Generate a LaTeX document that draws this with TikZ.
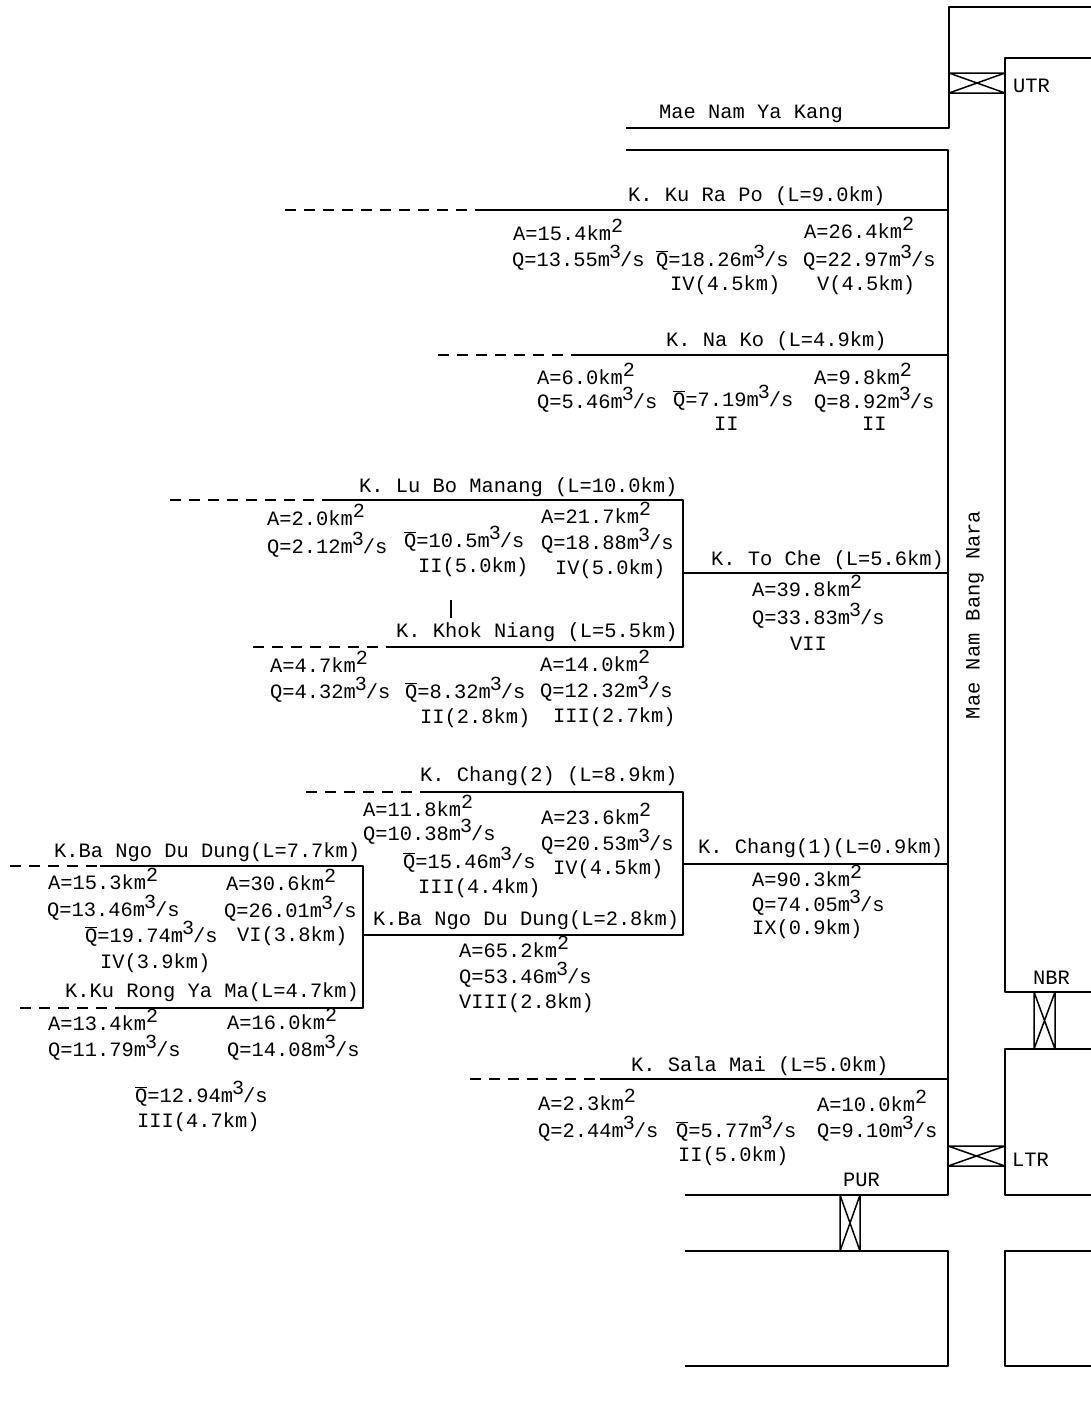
\documentclass[tikz,border=0pt]{standalone}
\usepackage{fontspec}
\setmainfont{Liberation Mono}
\newcommand{\upc}[1]{\raisebox{0.36em}{\fontsize{20}{20}\selectfont #1}}
\newcommand{\kmq}{km\upc{2}}
\newcommand{\cms}{m\kern-1pt\upc{3}\kern-1pt/s}
\newcommand{\qbar}{$\overline{\hbox{Q}}$}
\tikzset{
  bank/.style={line width=2.6pt,line join=round},
  ditch/.style={line width=2.6pt,dash pattern=on 11pt off 8pt},
  gate/.style={line width=1.5pt},
  lab/.style={anchor=base west,inner sep=0pt,yshift=-6pt,font=\fontsize{20.4}{24}\selectfont}
}
\begin{document}
\begin{tikzpicture}[x=1pt,y=-1pt]
  \useasboundingbox (0,0) rectangle (1091,1422);
  % main river banks
  \draw[bank] (1091,7) -- (949,7) -- (949,128) -- (626,128);
  \draw[bank] (626,150) -- (948,150) -- (948,1195) -- (685,1195);
  \draw[bank] (685,1251) -- (948,1251) -- (948,1366) -- (685,1366);
  \draw[bank] (1091,58) -- (1005,58) -- (1005,992) -- (1091,992);
  \draw[bank] (1091,1049) -- (1005,1049) -- (1005,1195) -- (1091,1195);
  \draw[bank] (1091,1251) -- (1005,1251) -- (1005,1366) -- (1091,1366);
  % gates
  \draw[gate] (949,73) rectangle (1005,93) (949,73) -- (1005,93) (949,93) -- (1005,73);
  \draw[gate] (948,1146) rectangle (1005,1166) (948,1146) -- (1005,1166) (948,1166) -- (1005,1146);
  \draw[gate] (1034,992) rectangle (1055,1049) (1034,992) -- (1055,1049) (1034,1049) -- (1055,992);
  \draw[gate] (840,1195) rectangle (860,1251) (840,1195) -- (860,1251) (840,1251) -- (860,1195);
  % tributaries
  \draw[bank] (484,210) -- (948,210);
  \draw[ditch] (285,210) -- (484,210);
  \draw[bank] (580,355) -- (948,355);
  \draw[ditch] (438,355) -- (580,355);
  \draw[bank] (330,500) -- (683,500) -- (683,647) -- (392,647);
  \draw[ditch] (170,500) -- (330,500);
  \draw[ditch] (253,647) -- (392,647);
  \draw[bank] (683,573) -- (948,573);
  \draw[gate] (451,600) -- (451,618);
  \draw[bank] (422,792) -- (683,792) -- (683,935) -- (363,935);
  \draw[ditch] (306,792) -- (422,792);
  \draw[bank] (683,864) -- (948,864);
  \draw[bank] (100,866) -- (363,866) -- (363,1008) -- (125,1008);
  \draw[ditch] (10,866) -- (100,866);
  \draw[ditch] (20,1008) -- (125,1008);
  \draw[bank] (600,1079) -- (948,1079);
  \draw[ditch] (470,1079) -- (600,1079);
  % gate and river names
  \node[lab] (utr) at (1013,86) {UTR};
  \node[lab] (nbr) at (1033,978) {NBR};
  \node[lab] (ltr) at (1012,1160) {LTR};
  \node[lab] (pur) at (843,1180) {PUR};
  \node[lab] (yakang) at (659,112) {Mae Nam Ya Kang};
  \node[lab,rotate=90,anchor=center,yshift=0pt] (bangnara) at (975,609) {Mae Nam Bang Nara};
  % K. Ku Ra Po
  \node[lab] (kurapo) at (628,195) {K. Ku Ra Po (L=9.0km)};
  \node[lab] (kuA1) at (513,234) {A=15.4\kmq};
  \node[lab] (kuQ1) at (512,260) {Q=13.55\cms};
  \node[lab] (kuM) at (656,260) {\qbar=18.26\cms};
  \node[lab] (kuC1) at (670,284) {IV(4.5km)};
  \node[lab] (kuA2) at (804,232) {A=26.4\kmq};
  \node[lab] (kuQ2) at (803,260) {Q=22.97\cms};
  \node[lab] (kuC2) at (817,284) {V(4.5km)};
  % K. Na Ko
  \node[lab] (nako) at (666,340) {K. Na Ko (L=4.9km)};
  \node[lab] (naA1) at (537,378) {A=6.0\kmq};
  \node[lab] (naQ1) at (537,402) {Q=5.46\cms};
  \node[lab] (naM) at (673,400) {\qbar=7.19\cms};
  \node[lab] (naC1) at (714,424) {II};
  \node[lab] (naA2) at (814,378) {A=9.8\kmq};
  \node[lab] (naQ2) at (814,402) {Q=8.92\cms};
  \node[lab] (naC2) at (862,424) {II};
  % K. Lu Bo Manang
  \node[lab] (lubo) at (359,486) {K. Lu Bo Manang (L=10.0km)};
  \node[lab] (luA1) at (267,519) {A=2.0\kmq};
  \node[lab] (luQ1) at (267,547) {Q=2.12\cms};
  \node[lab] (luM) at (404,541) {\qbar=10.5\cms};
  \node[lab] (luC1) at (418,566) {II(5.0km)};
  \node[lab] (luA2) at (541,517) {A=21.7\kmq};
  \node[lab] (luQ2) at (541,543) {Q=18.88\cms};
  \node[lab] (luC2) at (555,568) {IV(5.0km)};
  % K. To Che
  \node[lab] (toche) at (711,559) {K. To Che (L=5.6km)};
  \node[lab] (toA) at (752,590) {A=39.8\kmq};
  \node[lab] (toQ) at (752,618) {Q=33.83\cms};
  \node[lab] (toC) at (790,644) {VII};
  % K. Khok Niang
  \node[lab] (khok) at (396,631) {K. Khok Niang (L=5.5km)};
  \node[lab] (khA1) at (270,666) {A=4.7\kmq};
  \node[lab] (khQ1) at (270,692) {Q=4.32\cms};
  \node[lab] (khM) at (405,692) {\qbar=8.32\cms};
  \node[lab] (khC1) at (420,717) {II(2.8km)};
  \node[lab] (khA2) at (540,665) {A=14.0\kmq};
  \node[lab] (khQ2) at (540,691) {Q=12.32\cms};
  \node[lab] (khC2) at (553,716) {III(2.7km)};
  % K. Chang
  \node[lab] (chang2) at (420,775) {K. Chang(2)  (L=8.9km)};
  \node[lab] (chA1) at (363,810) {A=11.8\kmq};
  \node[lab] (chQ1) at (363,834) {Q=10.38\cms};
  \node[lab] (chA2) at (541,818) {A=23.6\kmq};
  \node[lab] (chQ2) at (541,844) {Q=20.53\cms};
  \node[lab] (chM) at (403,862) {\qbar=15.46\cms};
  \node[lab] (chC2) at (553,868) {IV(4.5km)};
  \node[lab] (chC1) at (418,887) {III(4.4km)};
  \node[lab] (chang1) at (698,847) {K. Chang(1)(L=0.9km)};
  \node[lab] (cgA) at (752,880) {A=90.3\kmq};
  \node[lab] (cgQ) at (752,905) {Q=74.05\cms};
  \node[lab] (cgC) at (752,928) {IX(0.9km)};
  % K. Ba Ngo Du Dung
  \node[lab] (bango1) at (54,851) {K.Ba Ngo Du Dung(L=7.7km)};
  \node[lab] (baA1) at (48,883) {A=15.3\kmq};
  \node[lab] (baQ1) at (47,910) {Q=13.46\cms};
  \node[lab] (baA2) at (226,884) {A=30.6\kmq};
  \node[lab] (baQ2) at (224,911) {Q=26.01\cms};
  \node[lab] (baM) at (85,936) {\qbar=19.74\cms};
  \node[lab] (baC2) at (237,935) {VI(3.8km)};
  \node[lab] (baC1) at (100,962) {IV(3.9km)};
  \node[lab] (bango2) at (373,919) {K.Ba Ngo Du Dung(L=2.8km)};
  \node[lab] (bgA) at (459,951) {A=65.2\kmq};
  \node[lab] (bgQ) at (459,977) {Q=53.46\cms};
  \node[lab] (bgC) at (459,1002) {VIII(2.8km)};
  % K. Ku Rong Ya Ma
  \node[lab] (kurong) at (65,991) {K.Ku Rong Ya Ma(L=4.7km)};
  \node[lab] (roA1) at (48,1024) {A=13.4\kmq};
  \node[lab] (roQ1) at (48,1050) {Q=11.79\cms};
  \node[lab] (roA2) at (227,1023) {A=16.0\kmq};
  \node[lab] (roQ2) at (227,1050) {Q=14.08\cms};
  \node[lab] (roM) at (135,1096) {\qbar=12.94\cms};
  \node[lab] (roC) at (137,1121) {III(4.7km)};
  % K. Sala Mai
  \node[lab] (salamai) at (631,1065) {K. Sala Mai (L=5.0km)};
  \node[lab] (saA1) at (538,1104) {A=2.3\kmq};
  \node[lab] (saQ1) at (538,1131) {Q=2.44\cms};
  \node[lab] (saM) at (676,1131) {\qbar=5.77\cms};
  \node[lab] (saC) at (678,1155) {II(5.0km)};
  \node[lab] (saA2) at (817,1105) {A=10.0\kmq};
  \node[lab] (saQ2) at (817,1131) {Q=9.10\cms};
\end{tikzpicture}
\end{document}
